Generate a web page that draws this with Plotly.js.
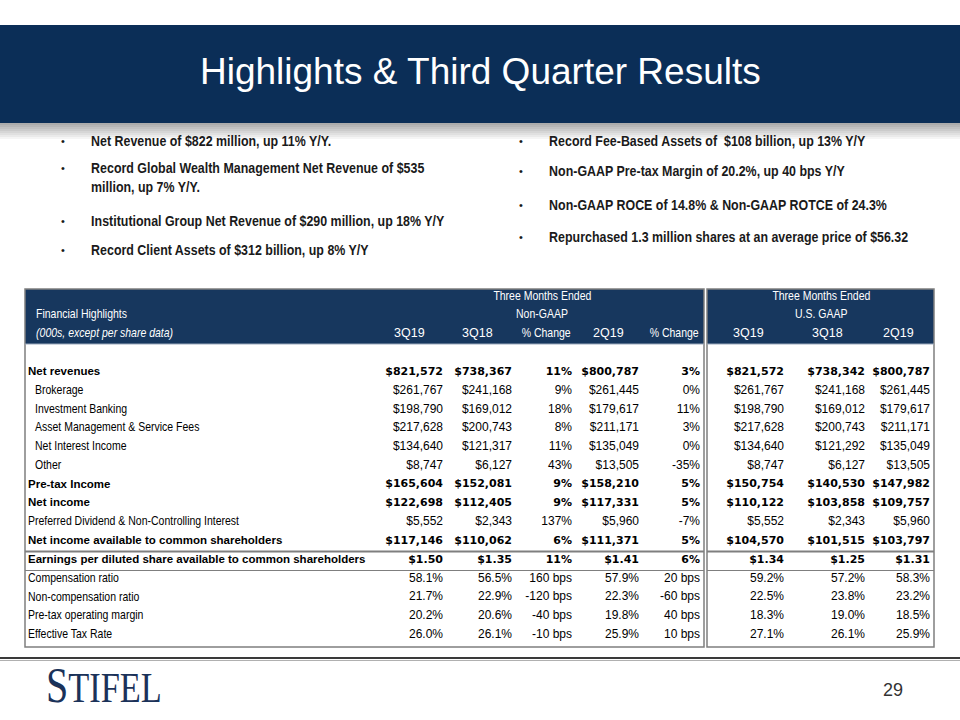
<!DOCTYPE html>
<html>
<head>
<meta charset="utf-8">
<script src="https://cdn.plot.ly/plotly-3.0.1.min.js"></script>
<style>
html,body{margin:0;padding:0;background:#ffffff;}
#chart{width:960px;height:720px;}
</style>
</head>
<body>
<div id="chart"></div>
<script>
// ---------------- DATA ----------------
const slideTitle = "Highlights & Third Quarter Results";

const bulletsLeft = [
  ["Net Revenue of $822 million, up 11% Y/Y."],
  ["Record Global Wealth Management Net Revenue of $535", "million, up 7% Y/Y."],
  ["Institutional Group Net Revenue of $290 million, up 18% Y/Y"],
  ["Record Client Assets of $312 billion, up 8% Y/Y"]
];
const bulletsRight = [
  ["Record Fee-Based Assets of  $108 billion, up 13% Y/Y"],
  ["Non-GAAP Pre-tax Margin of 20.2%, up 40 bps Y/Y"],
  ["Non-GAAP ROCE of 14.8% & Non-GAAP ROTCE of 24.3%"],
  ["Repurchased 1.3 million shares at an average price of $56.32"]
];

const periodHeading = "Three Months Ended";
const sectionNames = ["Non-GAAP", "U.S. GAAP"];
const tableCaption = "Financial Highlights";
const tableUnits = "(000s, except per share data)";
const columnHeaders = ["3Q19", "3Q18", "% Change", "2Q19", "% Change", "3Q19", "3Q18", "2Q19"];

const rowLabels = [
  "Net revenues",
  "Brokerage",
  "Investment Banking",
  "Asset Management & Service Fees",
  "Net Interest Income",
  "Other",
  "Pre-tax Income",
  "Net income",
  "Preferred Dividend & Non-Controlling Interest",
  "Net income available to common shareholders",
  "Earnings per diluted share available to common shareholders",
  "Compensation ratio",
  "Non-compensation ratio",
  "Pre-tax operating margin",
  "Effective Tax Rate"
];
// subtotal rows (shown bold) and revenue components (shown indented)
const rowIsTotal     = [1,0,0,0,0,0,1,1,0,1,1,0,0,0,0];
const rowIsComponent = [0,1,1,1,1,1,0,0,0,0,0,0,0,0,0];

const nonGaap3Q19 = ["$821,572","$261,767","$198,790","$217,628","$134,640","$8,747","$165,604","$122,698","$5,552","$117,146","$1.50","58.1%","21.7%","20.2%","26.0%"];
const nonGaap3Q18 = ["$738,367","$241,168","$169,012","$200,743","$121,317","$6,127","$152,081","$112,405","$2,343","$110,062","$1.35","56.5%","22.9%","20.6%","26.1%"];
const changeYoY   = ["11%","9%","18%","8%","11%","43%","9%","9%","137%","6%","11%","160 bps","-120 bps","-40 bps","-10 bps"];
const nonGaap2Q19 = ["$800,787","$261,445","$179,617","$211,171","$135,049","$13,505","$158,210","$117,331","$5,960","$111,371","$1.41","57.9%","22.3%","19.8%","25.9%"];
const changeQoQ   = ["3%","0%","11%","3%","0%","-35%","5%","5%","-7%","5%","6%","20 bps","-60 bps","40 bps","10 bps"];
const gaap3Q19    = ["$821,572","$261,767","$198,790","$217,628","$134,640","$8,747","$150,754","$110,122","$5,552","$104,570","$1.34","59.2%","22.5%","18.3%","27.1%"];
const gaap3Q18    = ["$738,342","$241,168","$169,012","$200,743","$121,292","$6,127","$140,530","$103,858","$2,343","$101,515","$1.25","57.2%","23.8%","19.0%","26.1%"];
const gaap2Q19    = ["$800,787","$261,445","$179,617","$211,171","$135,049","$13,505","$147,982","$109,757","$5,960","$103,797","$1.31","58.3%","23.2%","18.5%","25.9%"];

const pageNumber = "29";
const logoText = "STIFEL";

// ---------------- LAYOUT / STYLE ----------------
const W = 960, H = 720;
const NAVY_BAR = "#0b2e57";
const NAVY_HEAD = "#17375e";
const GRID = "#7f7f7f";
const SANS = '"Liberation Sans", Arial, sans-serif';
const WIDE_BOLD = '"DejaVu Sans", "Liberation Sans", sans-serif';
const NARROW_K = 0.84;   // horizontal squeeze used to imitate a narrow face

const ROW0 = 372, ROWSTEP = 18.786;           // pixel centre of first body row, row pitch
const colRight = [443, 512, 572, 639, 700, 784, 865, 930];
const colHeadX = [409, 477, 546, 608, 674, 748, 827, 898];
const boxA = [25, 704], boxB = [707, 934];
const TABLE_TOP = 289, HEAD_BOTTOM = 344, TABLE_BOTTOM = 647;

const py = p => 1 - p / H;   // pixel row -> paper fraction

const columns = [nonGaap3Q19, nonGaap3Q18, changeYoY, nonGaap2Q19, changeQoQ, gaap3Q19, gaap3Q18, gaap2Q19];

// ---------------- TRACES (table body) ----------------
const traces = [];
const idxAll = rowLabels.map((_, i) => i);
let narrowLabelTrace = -1;

[true, false].forEach(isTotal => {
  const idx = idxAll.filter(i => !!rowIsTotal[i] === isTotal);
  columns.forEach((vals, c) => {
    traces.push({
      type: "scatter", mode: "text",
      x: idx.map(() => colRight[c]),
      y: idx.map(i => rowLabels[i]),
      text: idx.map(i => vals[i]),
      textposition: "middle left",
      textfont: isTotal
        ? {family: WIDE_BOLD, size: 11, color: "#000", weight: "bold"}
        : {family: SANS, size: 12, color: "#000"},
      hoverinfo: "skip", showlegend: false, cliponaxis: false
    });
  });
  // row labels
  if (!isTotal) narrowLabelTrace = traces.length;
  traces.push({
    type: "scatter", mode: "text",
    x: idx.map(i => rowIsComponent[i] ? 35 : 28),
    y: idx.map(i => rowLabels[i]),
    text: idx.map(i => rowLabels[i]),
    textposition: "middle right",
    textfont: isTotal
      ? {family: SANS, size: 11.5, color: "#000", weight: "bold"}
      : {family: SANS, size: 12.5, color: "#000"},
    hoverinfo: "skip", showlegend: false, cliponaxis: false
  });
});

// ---------------- SHAPES ----------------
const shapes = [];
// title bar
shapes.push({type: "rect", xref: "x", yref: "paper", x0: 0, x1: W, y0: py(25), y1: py(123),
  fillcolor: NAVY_BAR, line: {width: 0}, layer: "below"});
// soft shadow under the bar
const shadeSteps = 9;
for (let k = 0; k < shadeSteps; k++) {
  const g = Math.round(172 + (255 - 172) * (k / (shadeSteps - 1)));
  shapes.push({type: "rect", xref: "x", yref: "paper", x0: 0, x1: W,
    y0: py(123 + k * 2), y1: py(123 + (k + 1) * 2),
    fillcolor: `rgb(${g},${g},${g})`, line: {width: 0}, layer: "below"});
}
// table header fills + outlines
[boxA, boxB].forEach(b => {
  shapes.push({type: "rect", xref: "x", yref: "paper", x0: b[0], x1: b[1], y0: py(TABLE_TOP), y1: py(HEAD_BOTTOM),
    fillcolor: NAVY_HEAD, line: {width: 0}, layer: "below"});
  shapes.push({type: "rect", xref: "x", yref: "paper", x0: b[0], x1: b[1], y0: py(TABLE_TOP), y1: py(TABLE_BOTTOM),
    fillcolor: "rgba(0,0,0,0)", line: {color: GRID, width: 1.5}});
  shapes.push({type: "line", xref: "x", yref: "paper", x0: b[0], x1: b[1], y0: py(HEAD_BOTTOM), y1: py(HEAD_BOTTOM),
    line: {color: "#9aa8bb", width: 1}});
  // rules around the EPS row
  shapes.push({type: "line", xref: "x", yref: "paper", x0: b[0], x1: b[1], y0: py(551.5), y1: py(551.5),
    line: {color: GRID, width: 2}});
  shapes.push({type: "line", xref: "x", yref: "paper", x0: b[0], x1: b[1], y0: py(570.5), y1: py(570.5),
    line: {color: GRID, width: 1.2}});
});
// footer rule
shapes.push({type: "line", xref: "x", yref: "paper", x0: 0, x1: W, y0: py(658), y1: py(658),
  line: {color: "#3a3a3a", width: 2}});
shapes.push({type: "line", xref: "x", yref: "paper", x0: 0, x1: W, y0: py(660.5), y1: py(660.5),
  line: {color: "#b0b0b0", width: 1}});

// ---------------- ANNOTATIONS ----------------
const ann = [];
const narrowTexts = new Set();   // annotation texts drawn with a narrow face
const A = (o) => Object.assign({xref: "x", yref: "paper", showarrow: false, borderpad: 0}, o);

ann.push(A({x: 480, y: py(72), text: slideTitle, xanchor: "center", yanchor: "middle",
  font: {family: SANS, size: 37, color: "#ffffff"}}));

function addBullets(list, bulletX, textX, rowsY) {
  list.forEach((lines, i) => {
    ann.push(A({x: bulletX, y: py(rowsY[i]), text: "\u2022", xanchor: "center", yanchor: "middle",
      font: {family: SANS, size: 11, color: "#1a1a1a"}}));
    lines.forEach((ln, j) => {
      narrowTexts.add(ln);
      ann.push(A({x: textX, y: py(rowsY[i] + j * 18.5), text: ln, xanchor: "left", yanchor: "middle",
        font: {family: SANS, size: 14.8, color: "#1a1a1a", weight: "bold"}}));
    });
  });
}
addBullets(bulletsLeft, 63, 90, [141, 168, 221, 250]);
addBullets(bulletsRight, 521, 548, [141, 171, 205, 237]);

// table header text
const headFont = {family: SANS, size: 12.5, color: "#ffffff"};
[periodHeading, tableCaption, tableUnits, sectionNames[0], sectionNames[1], "% Change"].forEach(t => narrowTexts.add(t));
ann.push(A({x: 542, y: py(296), text: periodHeading, xanchor: "center", yanchor: "middle", font: headFont}));
ann.push(A({x: 542, y: py(314), text: sectionNames[0], xanchor: "center", yanchor: "middle", font: headFont}));
ann.push(A({x: 821, y: py(296), text: periodHeading, xanchor: "center", yanchor: "middle", font: headFont}));
ann.push(A({x: 821, y: py(314), text: sectionNames[1], xanchor: "center", yanchor: "middle", font: headFont}));
ann.push(A({x: 35, y: py(314), text: tableCaption, xanchor: "left", yanchor: "middle", font: headFont}));
ann.push(A({x: 35, y: py(333), text: tableUnits, xanchor: "left", yanchor: "middle",
  font: {family: SANS, size: 12.5, color: "#ffffff", style: "italic"}}));
columnHeaders.forEach((h, c) => {
  ann.push(A({x: colHeadX[c], y: py(333), text: h, xanchor: "center", yanchor: "middle",
    font: {family: SANS, size: 12.5, color: "#ffffff"}}));
});

// footer
ann.push(A({x: 45, y: py(685), text: '<span style="font-size:50px">' + logoText.charAt(0) + '</span>' + logoText.slice(1),
  xanchor: "left", yanchor: "middle", font: {family: '"Liberation Serif", "DejaVu Serif", serif', size: 43, color: "#1b3259"}}));
ann.push(A({x: 893, y: py(690), text: pageNumber, xanchor: "center", yanchor: "middle",
  font: {family: SANS, size: 18, color: "#333333"}}));

// ---------------- LAYOUT ----------------
const layout = {
  width: W, height: H,
  margin: {l: 0, r: 0, t: 0, b: 0, pad: 0},
  paper_bgcolor: "#ffffff", plot_bgcolor: "rgba(0,0,0,0)",
  xaxis: {range: [0, W], visible: false, fixedrange: true},
  yaxis: {type: "category", categoryorder: "array", categoryarray: rowLabels,
    range: [(H - ROW0) / ROWSTEP, -ROW0 / ROWSTEP], visible: false, fixedrange: true},
  shapes: shapes,
  annotations: ann,
  showlegend: false
};

function squeeze(el, k, originX) {
  el.style.transformBox = "fill-box";
  el.style.transformOrigin = originX + " 50%";
  el.style.transform = "scaleX(" + k + ")";
}

Plotly.newPlot("chart", traces, layout, {displayModeBar: false, staticPlot: true}).then(gd => {
  const annIdx = {};
  gd.querySelectorAll(".annotation").forEach(g => {
    const t = g.querySelector(".annotation-text");
    if (!t) return;
    const i = +g.getAttribute("data-index");
    const a = ann[i];
    if (t.textContent === logoText) squeeze(t, 0.8, "0%");
    else if (a && narrowTexts.has(a.text)) squeeze(t, NARROW_K, a.xanchor === "center" ? "50%" : "0%");
  });
  const lab = gd.querySelectorAll(".scatterlayer .trace")[narrowLabelTrace];
  if (lab) lab.querySelectorAll("text").forEach(t => squeeze(t, NARROW_K, "0%"));
});
</script>
</body>
</html>
